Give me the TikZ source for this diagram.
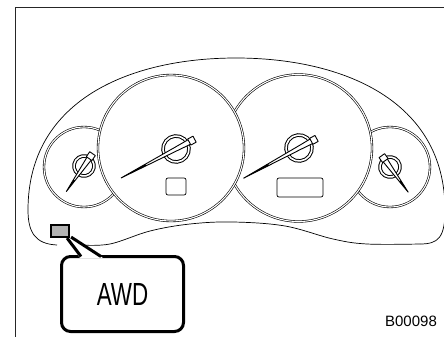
\documentclass[tikz,border=0pt]{standalone}
\usepackage{fontspec}
\setmainfont{Liberation Sans}
\newfontfamily\narrowsf[FakeStretch=0.7]{Liberation Sans}
\usetikzlibrary{positioning}

\begin{document}
\begin{tikzpicture}[x=1pt,y=-1pt,
  frame/.style={line width=1pt,draw=black!85},
  outline/.style={line width=0.7pt},
  dial/.style={circle,draw,fill=white,double,double distance=1.1pt,line width=0.6pt,inner sep=0,minimum size=#1},
  hubring/.style={draw,fill=white,double,double distance=1.6pt,line width=1pt},
  pointer/.style={draw,fill=white,line width=0.9pt,line join=round},
  odo/.style={draw,rounded corners=2pt,line width=0.7pt,inner sep=0},
  lamp/.style={draw,fill=black!30,line width=2.2pt,minimum width=18,minimum height=12,inner sep=0},
  callout/.style={draw,fill=white,line width=3pt,rounded corners=9pt,minimum width=122,minimum height=75,inner sep=0,font=\narrowsf\fontsize{32}{32}\selectfont},
  tail/.style={line width=3pt}]
\useasboundingbox (0,0) rectangle (444,337);
\draw[frame] (15,337) -- (15,7.5) -- (444,7.5);

% cluster housing
\draw[outline] (57,245) .. controls (35,244) and (28,232) .. (28,210)
   .. controls (28,100) and (130,58) .. (236,58)
   .. controls (342,58) and (445,100) .. (445,210)
   .. controls (445,238) and (438,244) .. (420,244);
\draw[outline] plot[smooth,tension=0.6] coordinates
   {(80,245) (110,244) (150,231) (190,224) (233,222) (285,226) (333,239) (367,244) (420,244)};

% dials, the big ones on top
\node[dial=80] (fuel) at (84,167) {};
\node[dial=80] (temp) at (390,167) {};
\node[dial=147] (speedo) at (298.5,148) {};
\node[dial=146] (tacho) at (171,148) {};

\node[odo,minimum width=20,minimum height=17] (trip) at (176,186.5) {};
\node[odo,minimum width=46,minimum height=19] (odometer) at (300,187.5) {};

% needles: hub x/y, angle, length, tail, hub radius
\foreach \hx/\hy/\ang/\len/\tl/\hr in
   {84/166/235.3/31/15/10, 176/149/207.8/62/21/13, 299/148/208.6/63/20/13, 390/167/-54.2/31/14/10} {
   \begin{scope}[shift={(\hx,\hy)},rotate=\ang]
      \path[hubring] (0,0) circle[radius=\hr pt];
      \path[pointer] (\len,0) -- (0,2) -- (-\tl+5,2.6) -- (-\tl+5,-2.6) -- (0,-2) -- cycle;
      \fill (\len,0) -- (0.55*\len,0.9) -- (0.55*\len,-0.9) -- cycle;
      \path[pointer] (-\tl,-3.4) rectangle (-\tl+6,3.4);
   \end{scope}
}

% AWD indicator and its label
\node[lamp] (lamp) at (60,231) {};
\node[callout] (awd) at (122.5,294) {AWD};
\coordinate (tailA) at (81,256.5);
\coordinate (tailB) at (101,256.5);
\fill[white] (80,258) -- (66,239) -- (73,239) -- (103,258) -- cycle;
\draw[tail] (tailA) -- ([xshift=-3pt]lamp.south east);
\draw[tail] (tailB) -- ([xshift=1pt,yshift=1pt]lamp.south east);
\node[lamp] at (lamp) {};

\node[font=\fontsize{15}{15}\selectfont] (figno) at (411,321) {B00098};
\end{tikzpicture}
\end{document}
